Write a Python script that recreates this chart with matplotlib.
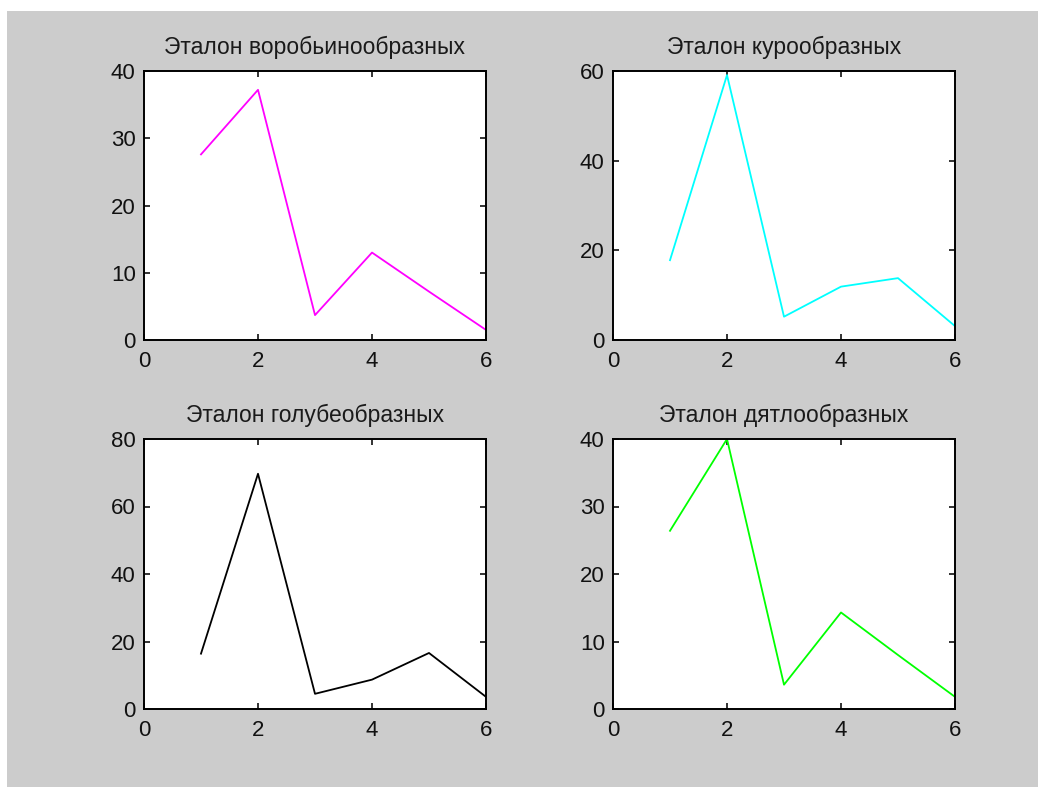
import matplotlib
matplotlib.use("Agg")
import matplotlib.pyplot as plt
from matplotlib.patches import Rectangle

# Reference profiles of four bird orders
x = [1, 2, 3, 4, 5, 6]
sparrow = [27.6, 37.2, 3.7, 13.0, 7.2, 1.5]
galliform = [17.8, 59.1, 5.2, 11.9, 13.8, 3.1]
pigeon = [16.4, 69.7, 4.5, 8.7, 16.6, 3.6]
woodpecker = [26.4, 40.0, 3.6, 14.3, 8.0, 1.8]

titles = ["Эталон воробьинообразных", "Эталон курообразных",
          "Эталон голубеобразных", "Эталон дятлообразных"]
series = [sparrow, galliform, pigeon, woodpecker]
colors = ["#FF00FF", "#00FFFF", "#000000", "#00FF00"]
ylims = [40, 60, 80, 40]
yticks = [[0, 10, 20, 30, 40], [0, 20, 40, 60],
          [0, 20, 40, 60, 80], [0, 10, 20, 30, 40]]
xticks = [0, 2, 4, 6]

plt.rcParams["font.family"] = ["Liberation Sans", "DejaVu Sans"]

W, H = 1038, 787
fig = plt.figure(figsize=(W / 100, H / 100), dpi=100, facecolor="white")
# grey window area
fig.patches.append(Rectangle((7 / W, 0), (W - 7) / W, (H - 11) / H,
                             transform=fig.transFigure, facecolor="#CCCCCC",
                             edgecolor="none", zorder=-10))

# axes boxes in pixels: left, top, right, bottom
boxes = [(144, 71, 486, 340), (613, 71, 955, 340),
         (144, 439, 486, 709), (613, 439, 955, 709)]

for box, t, y, c, ym, yt in zip(boxes, titles, series, colors, ylims, yticks):
    l, tp, r, b = box
    ax = fig.add_axes([l / W, 1 - b / H, (r - l) / W, (b - tp) / H])
    ax.set_facecolor("white")
    ax.plot(x, y, color=c, linewidth=1.3)
    ax.set_xlim(0, 6)
    ax.set_ylim(0, ym)
    ax.set_xticks(xticks)
    ax.set_yticks(yt)
    ax.tick_params(direction="in", length=4, width=1.2, top=True, right=True,
                   labelsize=16, colors="#111111", pad=6)
    ax.tick_params(axis="x", pad=8)
    for s in ax.spines.values():
        s.set_linewidth(1.4)
    ax.set_title(t, fontsize=16.5, pad=12, color="#1a1a1a")

fig.savefig("out.png", dpi=100, facecolor=fig.get_facecolor())
